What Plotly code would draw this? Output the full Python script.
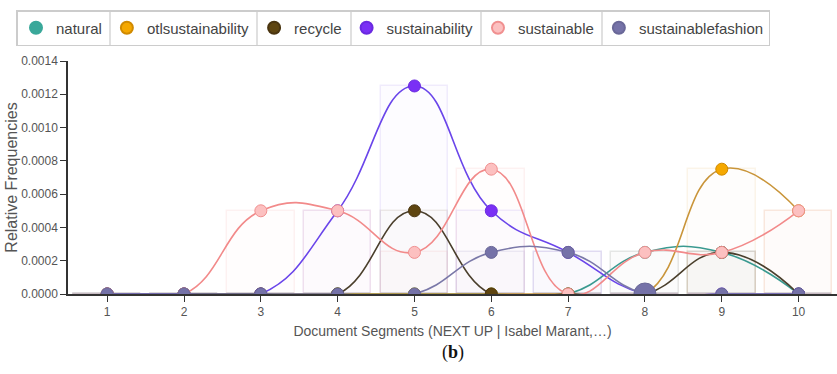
import plotly.graph_objects as go

segments = [1, 2, 3, 4, 5, 6, 7, 8, 9, 10]
tick_labels = ["1", "2", "3", "4", "5", "6", "7", "8", "9", "10"]

natural = [0, 0, 0, 0, 0, 0, 0, 0.00025, 0.00025, 0]
otlsustainability = [0, 0, 0, 0, 0, 0, 0, 0, 0.00075, 0.0005]
recycle = [0, 0, 0, 0, 0.0005, 0, 0, 0, 0.00025, 0]
sustainability = [0, 0, 0, 0.0005, 0.00125, 0.0005, 0.00025, 0, 0, 0]
sustainable = [0, 0, 0.0005, 0.0005, 0.00025, 0.00075, 0, 0.00025, 0.00025, 0.0005]
sustainablefashion = [0, 0, 0, 0, 0, 0.00025, 0.00025, 0, 0, 0]

# name, values, marker fill, line colour, marker outline, bar rgb
series = [
    ("natural", natural, "#3aa89a", "#3a9a90", "#3aa89a", "58,168,154"),
    ("otlsustainability", otlsustainability, "#f5a800", "#c9953a", "#d08a00", "220,170,80"),
    ("recycle", recycle, "#5e4510", "#4a3f2c", "#4a3510", "120,100,70"),
    ("sustainability", sustainability, "#7a30f5", "#6a45ea", "#6a2ae0", "140,110,230"),
    ("sustainable", sustainable, "#fcc0c0", "#f28a8a", "#f09090", "240,150,150"),
    ("sustainablefashion", sustainablefashion, "#7572a8", "#7a78a8", "#6a6898", "120,115,170"),
]

fig = go.Figure()

# faint background bars
for name, vals, mfill, lcol, mline, rgb in series:
    fig.add_trace(go.Bar(
        x=segments, y=vals, width=0.88,
        marker=dict(color=f"rgba({rgb},0.02)",
                    line=dict(color=f"rgba({rgb},0.12)", width=1.5)),
        showlegend=False, hoverinfo="skip",
    ))

for name, vals, mfill, lcol, mline, rgb in series:
    sizes = [12] * len(vals)
    if name == "sustainablefashion":
        sizes[7] = 22
    fig.add_trace(go.Scatter(
        x=segments, y=vals, mode="lines+markers", name=name,
        line=dict(color=lcol, width=1.6, shape="spline", smoothing=1.3),
        marker=dict(color=mfill, size=sizes, opacity=1, line=dict(color=mline, width=1)),
        showlegend=False, legendgroup=name,
    ))

for name, vals, mfill, lcol, mline, rgb in series:
    fig.add_trace(go.Scatter(
        x=[None], y=[None], mode="markers", name=name,
        marker=dict(color=mfill, size=12, opacity=1, line=dict(color=mline, width=1)),
        legendgroup=name, showlegend=True,
    ))

# plot-area geometry (px) used to place legend separators in paper coords
L, R, T, B = 68, 837, 61, 294
def px_x(p):
    return (p - L) / (R - L)
def px_y(p):
    return (B - p) / (B - T)

sep_px = [110, 257, 351, 481, 602]
shapes = [dict(type="line", xref="paper", yref="paper",
               x0=px_x(s), x1=px_x(s), y0=px_y(12), y1=px_y(45),
               line=dict(color="#d6d6d6", width=1.5)) for s in sep_px]

fig.update_layout(
    width=837, height=374,
    margin=dict(l=L, r=837 - R, t=T, b=374 - B, autoexpand=False),
    paper_bgcolor="white", plot_bgcolor="white",
    barmode="overlay", bargap=0,
    font=dict(family="Liberation Sans, Arial, sans-serif", color="#555", size=12),
    showlegend=True,
    legend=dict(
        orientation="h", x=16 / 837, y=1 - 10 / 374, xanchor="left", yanchor="top",
        xref="container", yref="container",
        bgcolor="rgba(0,0,0,0)",
        bordercolor="#cccccc", borderwidth=1.5,
        font=dict(size=15, color="#444"),
        itemsizing="constant",
    ),
    shapes=shapes,
    xaxis=dict(
        range=[0.49, 10.5], tickvals=segments, ticktext=tick_labels,
        showgrid=False, zeroline=False, showline=True, linecolor="#333", linewidth=1.5,
        ticks="outside", ticklen=6, tickcolor="#333",
        tickfont=dict(size=12, color="#555"),
        title=dict(text="Document Segments (NEXT UP | Isabel Marant,…)",
                   font=dict(size=14, color="#555"), standoff=8),
    ),
    yaxis=dict(
        range=[0, 0.0014], dtick=0.0002, tickformat=".4f",
        showgrid=False, zeroline=False, showline=True, linecolor="#333", linewidth=1.5,
        ticks="outside", ticklen=6, tickcolor="#333",
        tickfont=dict(size=12, color="#555"),
        title=dict(text="Relative Frequencies", font=dict(size=16, color="#555"), standoff=0),
    ),
    annotations=[dict(
        text="(<b>b</b>)", x=0.5, y=px_y(352), xref="paper", yref="paper",
        yanchor="middle", showarrow=False,
        font=dict(family="Liberation Serif, serif", size=18, color="#111"),
    )],
)

fig.write_html("out.html", config={"displayModeBar": False},
               post_script="document.body.style.margin='0';document.body.style.padding='0';")
